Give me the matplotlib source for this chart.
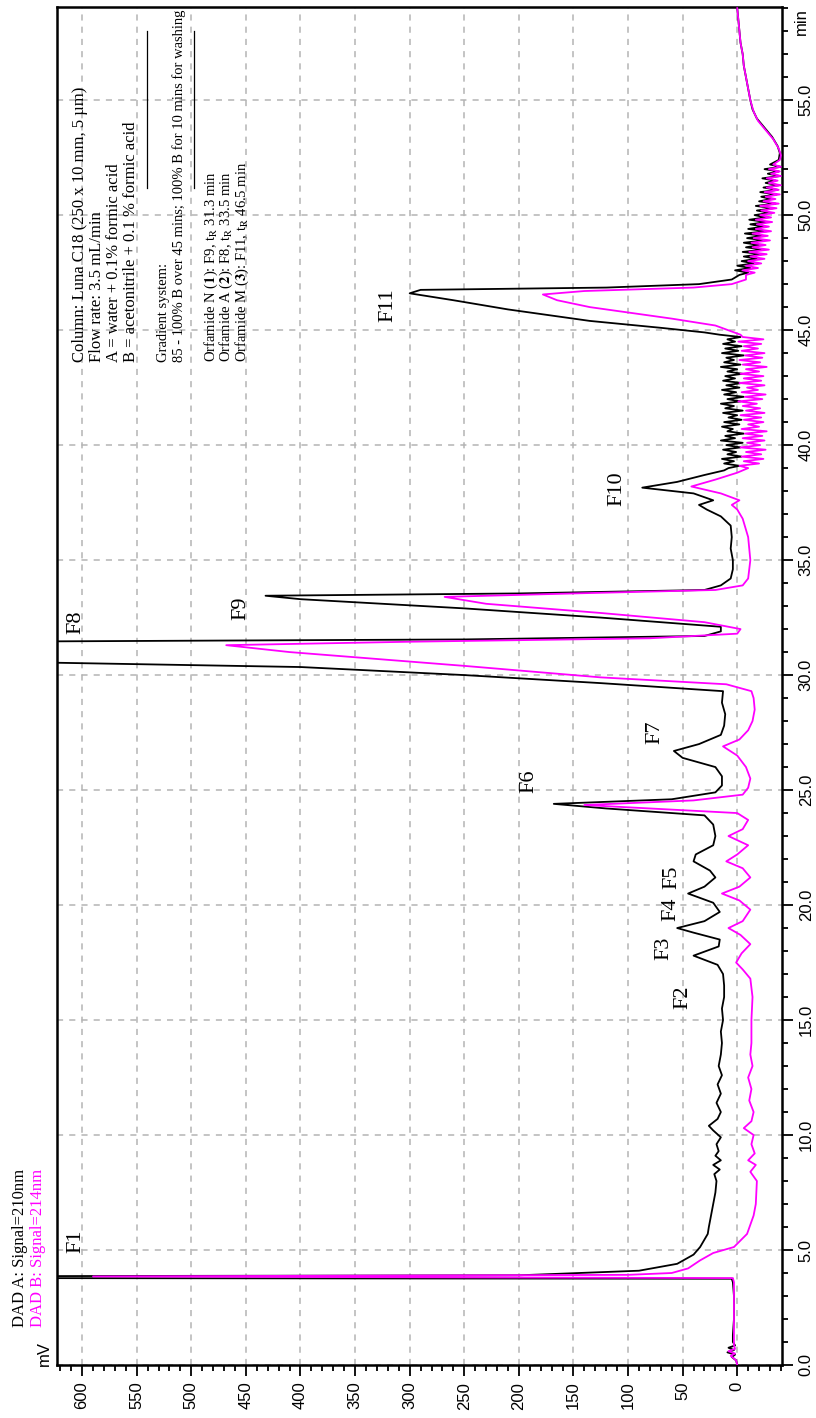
import matplotlib
matplotlib.use("Agg")
import matplotlib.pyplot as plt
from matplotlib.ticker import MultipleLocator, FormatStrFormatter

plt.rcParams['mathtext.fontset'] = 'stix'

# DAD A (210 nm, black) : retention time (min) / signal (mV), read in segments
a_time_early = [0.0, 0.2, 0.35, 0.45, 0.55, 0.65, 0.75, 0.85, 1.0, 1.3, 2.0, 3.0, 3.6, 3.75,
                3.78, 3.86, 3.9, 4.1, 4.4, 4.8, 5.13, 5.7, 6.0, 6.5, 7.0, 7.5, 8.0, 8.3, 8.5,
                8.7, 8.9, 9.1, 9.3, 9.6, 9.9, 10.2, 10.4, 10.7, 11.0, 11.4, 11.8, 12.2, 12.6,
                13.0, 13.5, 14.0, 14.5, 15.0, 15.5, 16.0, 16.5, 17.0, 17.4, 17.8, 18.2, 18.5,
                18.8, 19.0, 19.3, 19.7, 20.1, 20.5, 20.8, 21.2, 21.5, 21.9, 22.2, 22.6, 23.0,
                23.5, 23.9, 24.2, 24.4, 24.6, 24.9, 25.2, 25.6, 26.0, 26.4, 26.7, 27.0, 27.4,
                27.8, 28.3, 28.8, 29.3, 29.65, 30.0, 30.35, 30.6, 31.45, 31.55, 31.7, 31.9, 32.1,
                32.5, 32.9, 33.3, 33.45, 33.55, 33.7, 33.9, 34.2, 34.6, 35.0, 35.5, 36.0, 36.5,
                36.9, 37.2, 37.4, 37.6, 37.9, 38.15, 38.4, 38.7, 38.9]
a_mv_early = [0, 1, 5, 2, 9, 3, 8, 2, 4, 4, 3, 3, 4, 5,
              700, 700, 200, 90, 55, 40, 34, 27, 26, 24, 22, 20, 19, 21, 16,
              22, 15, 20, 17, 19, 15, 22, 26, 18, 15, 19, 15, 18, 14,
              17, 15, 14, 15, 13, 14, 12, 12, 13, 18, 40, 17, 16,
              40, 55, 30, 16, 22, 45, 30, 20, 25, 40, 38, 22, 20,
              22, 30, 120, 168, 60, 20, 14, 14, 20, 50, 58, 35, 15,
              12, 11, 14, 13, 125, 250, 400, 700, 700, 250, 30, 15, 15,
              125, 250, 400, 432, 200, 30, 15, 6, 4, 4, 6, 5, 6,
              15, 28, 35, 22, 40, 87, 55, 30, 12]

# noisy stretches (39.0-44.8 and 47.4-52.2 min), shared time grid for both signals
noise1_time = [39.0, 39.1, 39.2, 39.3, 39.4, 39.5, 39.6, 39.7, 39.8, 39.9,
               40.0, 40.1, 40.2, 40.3, 40.4, 40.5, 40.6, 40.7, 40.8, 40.9,
               41.0, 41.1, 41.2, 41.3, 41.4, 41.5, 41.6, 41.7, 41.8, 41.9,
               42.0, 42.1, 42.2, 42.3, 42.4, 42.5, 42.6, 42.7, 42.8, 42.9,
               43.0, 43.1, 43.2, 43.3, 43.4, 43.5, 43.6, 43.7, 43.8, 43.9,
               44.0, 44.1, 44.2, 44.3, 44.4, 44.5, 44.6, 44.7, 44.8]
a_noise1 = [8, -2, 12, 3, 14, -4, 9, 1, 13, -3,
            10, -5, 15, 2, 11, -6, 9, 4, 14, -2,
            12, -4, 8, 0, 13, -5, 11, 3, 15, -3,
            9, -6, 12, 1, 14, -2, 10, -4, 13, 2,
            11, -5, 9, 0, 15, -3, 12, 3, 10, -6,
            14, -1, 11, -4, 13, 2, 9, -3, 16]
b_noise1 = [-10, -2, -20, -6, -24, -4, -22, -8, -26, -3,
            -21, -9, -25, -5, -23, -7, -27, -4, -20, -10,
            -24, -6, -22, -3, -25, -8, -21, -5, -18, -1,
            -23, -7, -26, -4, -19, -9, -25, -2, -22, -6,
            -24, -3, -20, -8, -27, -5, -21, -2, -23, -7,
            -25, -4, -19, -6, -22, -1, -24, -5, -3]

noise2_time = [47.4, 47.5, 47.6, 47.7, 47.8, 47.9,
               48.0, 48.1, 48.2, 48.3, 48.4, 48.5, 48.6, 48.7, 48.8, 48.9,
               49.0, 49.1, 49.2, 49.3, 49.4, 49.5, 49.6, 49.7, 49.8, 49.9,
               50.0, 50.1, 50.2, 50.3, 50.4, 50.5, 50.6, 50.7, 50.8, 50.9,
               51.0, 51.1, 51.2, 51.3, 51.4, 51.5, 51.6, 51.7, 51.8, 51.9,
               52.0, 52.1, 52.2]
a_noise2 = [-2, -10, 2, -12, 0, -15,
            -4, -18, -6, -22, -5, -24, -8, -20, -6, -25,
            -9, -23, -7, -27, -10, -24, -12, -27, -11, -26,
            -16, -30, -18, -33, -17, -35, -20, -31, -22, -36,
            -21, -37, -24, -38, -26, -35, -23, -39, -28, -38,
            -25, -40, -30]
b_noise2 = [-8, -16, -5, -19, -8, -22,
            -10, -25, -12, -27, -11, -29, -14, -26, -13, -30,
            -15, -28, -14, -31, -17, -29, -18, -32, -17, -31,
            -21, -34, -22, -36, -21, -38, -24, -35, -26, -39,
            -25, -38, -27, -40, -29, -37, -27, -40, -31, -39,
            -29, -40, -33]

a_time_f11 = [44.9, 45.1, 45.4, 45.9, 46.3, 46.6, 46.75, 46.85, 47.0, 47.2]
a_mv_f11 = [30, 70, 135, 210, 260, 300, 290, 120, 35, 5]
a_time_late = [52.4, 52.7, 53.0, 53.4, 53.8, 54.2, 54.6, 55.0, 55.5, 56.0, 56.5, 57.0,
               57.5, 58.0, 58.5, 59.0]
a_mv_late = [-38, -39, -37, -32, -25, -18, -14, -12, -10, -8, -6, -5, -3, -2, -1, 0]

# DAD B (214 nm, magenta)
b_time_early = [0.0, 0.2, 0.4, 0.5, 0.6, 0.7, 0.85, 1.0, 2.0, 3.0, 3.6, 3.78, 3.85, 3.92,
                4.0, 4.2, 4.55, 4.87, 5.13, 5.7, 6.5, 7.0, 8.0, 8.4, 8.7, 8.9, 9.2, 9.6,
                10.0, 10.3, 10.6, 11.0, 11.5, 12.0, 12.5, 13.0, 13.5, 14.0, 15.0, 16.0, 16.8,
                17.2, 17.5, 17.9, 18.3, 18.7, 19.0, 19.3, 19.8, 20.2, 20.5, 20.8, 21.2, 21.6,
                21.9, 22.2, 22.6, 23.0, 23.3, 23.7, 24.0, 24.2, 24.35, 24.55, 24.8, 25.1, 25.5,
                26.0, 26.5, 26.9, 27.2, 27.6, 28.0, 28.5, 29.0, 29.3, 29.6, 29.9, 30.4, 31.0,
                31.3, 31.45, 31.6, 31.8, 32.0, 32.3, 32.7, 33.1, 33.4, 33.55, 33.7, 33.9, 34.2,
                35.0, 36.0, 36.8, 37.2, 37.4, 37.6, 37.9, 38.2, 38.5, 38.8]
b_mv_early = [0, 1, 6, 2, 8, 2, 3, 3, 3, 3, 3, 4, 590, 100,
              60, 45, 34, 22, 3, -9, -15, -17, -18, -12, -17, -10, -16, -13,
              -15, -6, -13, -15, -11, -13, -10, -14, -12, -13, -13, -14, -12,
              -5, 1, -4, -12, -3, 8, -5, -12, -2, 14, -2, -12, -5,
              10, 0, -10, 8, -5, -10, 0, 80, 140, 40, -5, -10, -12,
              -8, 0, 13, -2, -10, -14, -16, -15, -13, 10, 125, 250, 410,
              468, 300, 80, 0, -3, 30, 125, 230, 268, 150, 20, -5, -10,
              -12, -10, -5, 0, 5, -2, 15, 42, 20, 0]
b_time_f11 = [45.2, 45.5, 46.0, 46.3, 46.55, 46.7, 46.85, 47.0, 47.2]
b_mv_f11 = [20, 60, 135, 165, 178, 140, 40, 5, -8]
b_time_late = [52.4, 52.6, 52.9, 53.3, 53.7, 54.1, 54.5, 55.0, 55.5, 56.0, 56.5, 57.0,
               57.5, 58.0, 58.5, 59.0]
b_mv_late = [-39, -40, -38, -33, -26, -19, -15, -12, -10, -8, -6, -5, -3, -2, -1, 0]

time_a = a_time_early + noise1_time + a_time_f11 + noise2_time + a_time_late
signal_a = a_mv_early + a_noise1 + a_mv_f11 + a_noise2 + a_mv_late
time_b = b_time_early + noise1_time + b_time_f11 + noise2_time + b_time_late
signal_b = b_mv_early + b_noise1 + b_mv_f11 + b_noise2 + b_mv_late

peak_names = ['F1', 'F2', 'F3', 'F4', 'F5', 'F6', 'F7', 'F8', 'F9', 'F10', 'F11']
peak_label_time = [5.4, 16.0, 18.1, 19.8, 21.2, 25.4, 27.5, 32.3, 32.9, 38.1, 46.1]
peak_label_mv = [606, 50, 67, 61, 60, 191, 75, 606, 455, 110, 320]

info_lines = ['Column: Luna C18 (250 x 10 mm, 5 \u00b5m)',
              'Flow rate: 3.5 mL/min',
              'A = water + 0.1% formic acid',
              'B = acetonitrile + 0.1 % formic acid',
              None,
              'Gradient system:',
              '85 - 100% B over 45 mins; 100% B for 10 mins for washing',
              None,
              r'Orfamide N ($\mathbf{1}$): F9, t$_\mathrm{R}$ 31.3 min',
              r'Orfamide A ($\mathbf{2}$): F8, t$_\mathrm{R}$ 33.5 min',
              r'Orfamide M ($\mathbf{3}$): F11, t$_\mathrm{R}$ 46.5 min']
info_sizes = [12, 12, 12, 12, None, 10.5, 10.5, None, 10.5, 10.5, 10.5]

serif = 'Liberation Serif'
sans = 'Liberation Sans'
magenta = '#ff00ff'

fig = plt.figure(figsize=(8.16, 14.18), dpi=100)
W, H = 816, 1418
ax = fig.add_axes([57 / W, (H - 1365) / H, (782 - 57) / W, (1365 - 7) / H])

ax.plot(signal_a, time_a, color='black', lw=1.3, zorder=3)
ax.plot(signal_b, time_b, color=magenta, lw=1.3, zorder=4)

ax.set_xlim(623, -41)
ax.set_ylim(0, 59.05)

ax.xaxis.set_major_locator(MultipleLocator(50))
ax.xaxis.set_minor_locator(MultipleLocator(10))
ax.yaxis.set_major_locator(MultipleLocator(5))
ax.yaxis.set_minor_locator(MultipleLocator(1))
ax.yaxis.set_major_formatter(FormatStrFormatter('%.1f'))
ax.yaxis.tick_right()

ax.tick_params(which='major', direction='out', length=8, width=1.3, colors='black',
               labelsize=12, pad=4)
ax.tick_params(which='minor', direction='out', length=4.5, width=1.3)
for lab in ax.get_xticklabels() + ax.get_yticklabels():
    lab.set_rotation(90)
    lab.set_family(sans)
for lab in ax.get_yticklabels():
    lab.set_va('center')

ax.grid(True, which='major', color='#b4b4b4', ls=(0, (4, 4)), lw=1.1)
for sp in ax.spines.values():
    sp.set_linewidth(1.8)

# peak labels
for name, t, mv in zip(peak_names, peak_label_time, peak_label_mv):
    ax.text(mv, t, name, rotation=90, ha='center', va='center', fontsize=16,
            family=serif, zorder=5)

# method info block (rotated)
line_mv = 602
text_start = 43.6
for line, size in zip(info_lines, info_sizes):
    if line is None:
        ax.plot([line_mv + 1, line_mv + 1], [51.2, 58.0], color='black', lw=0.9)
        line_mv -= 14.5
    else:
        ax.text(line_mv, text_start, line, rotation=90, rotation_mode='anchor',
                ha='left', va='center', fontsize=size, family=serif)
        line_mv -= 15.5 if size > 11 else 14.5

fig.text(20 / W, 1 - 1327 / H, 'DAD A: Signal=210nm', rotation=90, ha='center',
         va='bottom', fontsize=12, family=serif, color='black')
fig.text(38 / W, 1 - 1327 / H, 'DAD B: Signal=214nm', rotation=90, ha='center',
         va='bottom', fontsize=12, family=serif, color=magenta)
fig.text(44 / W, 1 - 1366 / H, 'mV', rotation=90, ha='center', va='bottom',
         fontsize=12, family=sans)
fig.text(801 / W, 1 - 8 / H, 'min', rotation=90, ha='center', va='top',
         fontsize=12, family=sans)

fig.savefig('out.png', dpi=100)
